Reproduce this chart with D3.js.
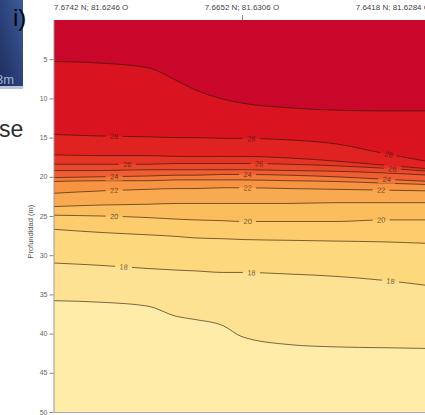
<!DOCTYPE html>
<html>
<head>
<meta charset="utf-8">
<script src="https://cdn.jsdelivr.net/npm/d3@7"></script>
<style>
  html, body { margin: 0; padding: 0; background: #fff; }
  svg { display: block; }
</style>
</head>
<body>
<svg id="chart" width="425" height="415"></svg>
<script>
// Transect stations (coordinates shown above the section)
const stations = ["7.6742 N; 81.6246 O", "7.6652 N; 81.6306 O", "7.6418 N; 81.6284 O"];

// Sampling positions along the transect, in station units (0 = first station, 2 = last)
const positions = [0, 0.25, 0.5, 0.65, 0.75, 0.9, 1.0, 1.25, 1.5, 1.75, 2.0];

// Depth (m) of each isotherm at the sampling positions
const iso29 = [5.3, 5.5, 6.1, 7.7, 8.9, 10.1, 10.6, 11.2, 11.5, 11.6, 11.6];
const iso28 = [14.6, 14.8, 14.9, 15.0, 15.0, 15.1, 15.1, 15.3, 15.8, 17.0, 18.1];
const iso27 = [17.2, 17.3, 17.3, 17.4, 17.4, 17.4, 17.4, 17.6, 18.0, 18.5, 19.0];
const iso26 = [18.4, 18.4, 18.4, 18.3, 18.3, 18.3, 18.3, 18.4, 18.6, 18.9, 19.3];
const iso25 = [19.2, 19.2, 19.1, 19.1, 19.1, 19.1, 19.1, 19.2, 19.3, 19.5, 19.8];
const iso24 = [20.1, 20.0, 19.9, 19.8, 19.8, 19.7, 19.7, 19.8, 20.0, 20.3, 20.6];
const iso23 = [20.6, 20.5, 20.5, 20.4, 20.4, 20.4, 20.4, 20.5, 20.6, 20.8, 21.0];
const iso22 = [22.1, 21.8, 21.6, 21.5, 21.5, 21.4, 21.4, 21.5, 21.6, 21.7, 21.8];
const iso21 = [23.8, 23.6, 23.5, 23.4, 23.4, 23.4, 23.4, 23.4, 23.3, 23.3, 23.3];
const iso20 = [24.9, 25.0, 25.2, 25.4, 25.5, 25.6, 25.7, 25.7, 25.7, 25.5, 25.5];
const iso19 = [26.7, 27.1, 27.4, 27.6, 27.8, 27.9, 28.0, 28.1, 28.2, 28.3, 28.5];
const iso18 = [31.0, 31.3, 31.7, 31.9, 32.0, 32.2, 32.2, 32.4, 32.7, 33.2, 33.9];
const iso17 = [35.8, 36.0, 36.5, 37.8, 38.2, 39.0, 40.4, 41.4, 41.7, 41.8, 41.9];

// Isotherm levels (°C), warmest first
const levels = [29, 28, 27, 26, 25, 24, 23, 22, 21, 20, 19, 18, 17];
const isoDepths = [iso29, iso28, iso27, iso26, iso25, iso24, iso23, iso22, iso21, iso20, iso19, iso18, iso17];

// Labelled isotherms and where their labels sit along the transect
const labelledLevels = [28, 26, 24, 22, 20, 18];
const labelSpots = [
  [0.32, 1.05, 1.78],
  [0.39, 1.09, 1.80],
  [0.32, 1.03, 1.77],
  [0.32, 1.03, 1.74],
  [0.32, 1.03, 1.74],
  [0.37, 1.05, 1.79]
];

// Depth axis ticks
const depthTicks = [5, 10, 15, 20, 25, 30, 35, 40, 45, 50];

// Fill colour of each temperature band: above 29 °C, 28–29, ..., 17–18, below 17 °C
const bandColors = ["#c8072a", "#d9131f", "#e02221", "#e53426", "#ea482c", "#ef5e32", "#f37a3a",
                    "#f79443", "#f9aa50", "#fbbe5e", "#fdcc6d", "#fed87c", "#fee293", "#ffeca9"];

const svg = d3.select("#chart");
const W = 425, H = 415;
const plot = { left: 54, right: 430, top: 20, bottom: 412 };
const font = "Liberation Sans, Arial, sans-serif";

// --- scraps of the surrounding page at the left margin ---
const defs = svg.append("defs");
const grad = defs.append("linearGradient")
  .attr("id", "pageBlue").attr("x1", 1).attr("y1", 0).attr("x2", 0).attr("y2", 1);
grad.append("stop").attr("offset", "0%").attr("stop-color", "#3f5d9a");
grad.append("stop").attr("offset", "50%").attr("stop-color", "#2c437c");
grad.append("stop").attr("offset", "100%").attr("stop-color", "#1e2d5e");
svg.append("rect").attr("x", 0).attr("y", 0).attr("width", 24).attr("height", 88).attr("fill", "url(#pageBlue)");
svg.append("rect").attr("x", 0).attr("y", 86).attr("width", 24).attr("height", 3).attr("fill", "#b9c6da");
svg.append("text").attr("x", -4).attr("y", 84).attr("font-family", font)
  .attr("font-size", 13).attr("fill", "#9fb3d4").text("3m");
svg.append("text").attr("x", -1).attr("y", 137).attr("font-family", font)
  .attr("font-size", 23).attr("fill", "#2e2e2e").text("sec");

// white sheet carrying the figure
svg.append("rect").attr("x", 23).attr("y", 0).attr("width", W - 23).attr("height", H).attr("fill", "#fff");

svg.append("text").attr("x", 13).attr("y", 26).attr("font-family", font)
  .attr("font-size", 24).attr("fill", "#05060f").text("i)");

// --- scales ---
const x = d3.scaleLinear().domain([0, 2]).range([plot.left, plot.right]);
const y = d3.scaleLinear().domain([0, 50]).range([plot.top, plot.bottom]);

defs.append("clipPath").attr("id", "plotClip")
  .append("rect").attr("x", plot.left).attr("y", plot.top)
  .attr("width", plot.right - plot.left).attr("height", plot.bottom - plot.top);

const curve = d3.curveMonotoneX;
const pts = depths => positions.map((p, i) => [p, depths[i]]);

const g = svg.append("g").attr("clip-path", "url(#plotClip)");

// warmest band as the background, each colder band laid from its isotherm down to the bottom
g.append("rect").attr("x", plot.left).attr("y", plot.top)
  .attr("width", plot.right - plot.left).attr("height", plot.bottom - plot.top)
  .attr("fill", bandColors[0]);

const area = d3.area().curve(curve)
  .x(d => x(d[0])).y0(d => y(d[1])).y1(y(50));

isoDepths.forEach((depths, i) => {
  g.append("path").attr("d", area(pts(depths))).attr("fill", bandColors[i + 1]);
});

// label placement helpers
const depthAt = (depths, p) => d3.scaleLinear().domain(positions).range(depths)(p);
const labels = [];
labelledLevels.forEach((lv, k) => {
  const depths = isoDepths[levels.indexOf(lv)];
  labelSpots[k].forEach(p => {
    const px = x(p), py = y(depthAt(depths, p));
    const dx = x(p + 0.04) - x(p - 0.04);
    const dy = y(depthAt(depths, p + 0.04)) - y(depthAt(depths, p - 0.04));
    labels.push({ lv, px, py, angle: Math.atan2(dy, dx) * 180 / Math.PI });
  });
});

// mask opening a gap in the contour lines under each label
const mask = defs.append("mask").attr("id", "labelGaps").attr("maskUnits", "userSpaceOnUse")
  .attr("x", 0).attr("y", 0).attr("width", W).attr("height", H);
mask.append("rect").attr("x", 0).attr("y", 0).attr("width", W).attr("height", H).attr("fill", "#fff");
mask.selectAll("rect.gap").data(labels).join("rect").attr("class", "gap")
  .attr("x", -8.5).attr("y", -4).attr("width", 17).attr("height", 8).attr("fill", "#000")
  .attr("transform", d => `translate(${d.px},${d.py}) rotate(${d.angle})`);

const line = d3.line().curve(curve).x(d => x(d[0])).y(d => y(d[1]));
const lines = g.append("g").attr("mask", "url(#labelGaps)");
isoDepths.forEach(depths => {
  lines.append("path").attr("d", line(pts(depths)))
    .attr("fill", "none").attr("stroke", "#2a1608").attr("stroke-opacity", 0.62).attr("stroke-width", 1);
});

g.selectAll("text.clabel").data(labels).join("text").attr("class", "clabel")
  .attr("transform", d => `translate(${d.px},${d.py}) rotate(${d.angle})`)
  .attr("text-anchor", "middle").attr("dy", "0.35em")
  .attr("font-family", font).attr("font-size", 7.5)
  .attr("fill", "#2a1608").attr("fill-opacity", 0.68)
  .text(d => d.lv);

// --- frame and depth axis ---
svg.append("line").attr("x1", plot.left).attr("x2", plot.right)
  .attr("y1", plot.bottom + 0.5).attr("y2", plot.bottom + 0.5).attr("stroke", "#aaa");

const yAxis = svg.append("g").attr("transform", `translate(${plot.left - 0.5},0)`)
  .call(d3.axisLeft(y).tickValues(depthTicks).tickSize(4).tickPadding(2).tickSizeOuter(0));
yAxis.select(".domain").attr("stroke", "#999");
yAxis.selectAll(".tick line").attr("stroke", "#888");
yAxis.selectAll(".tick text").attr("fill", "#666")
  .attr("font-family", font).attr("font-size", 7).attr("dy", "0.3em");

svg.append("text").attr("transform", `translate(33,${(y(23) + y(31)) / 2}) rotate(-90)`)
  .attr("text-anchor", "middle").attr("font-family", font)
  .attr("font-size", 7.5).attr("fill", "#555").text("Profundidad (m)");

// --- station labels along the top ---
const anchors = ["start", "middle", "end"];
svg.selectAll("text.station").data(stations).join("text").attr("class", "station")
  .attr("x", (d, i) => x(i)).attr("y", 10)
  .attr("text-anchor", (d, i) => anchors[i])
  .attr("font-family", font).attr("font-size", 8)
  .attr("fill", "#444").text(d => d);
// tick marking the middle station
svg.append("line")
  .attr("x1", x(1) + 0.5).attr("x2", x(1) + 0.5)
  .attr("y1", 15).attr("y2", plot.top).attr("stroke", "#888");
</script>
</body>
</html>
